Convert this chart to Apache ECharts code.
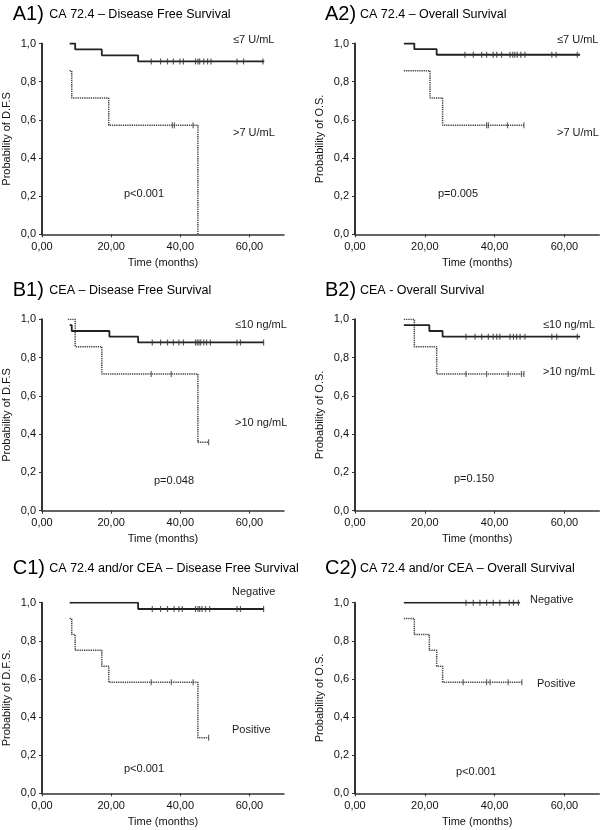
<!DOCTYPE html>
<html><head><meta charset="utf-8">
<script src="https://cdn.jsdelivr.net/npm/echarts@6/dist/echarts.min.js"></script>
<style>html,body{margin:0;padding:0;background:#fff}#c{width:600px;height:830px}</style>
</head><body><div id="c"></div>
<script>
// ---- tick values ----
const xTickValues = [0, 20, 40, 60];
const yTickValues = [0, 0.2, 0.4, 0.6, 0.8, 1.0];

// ---- A1: CA 72.4 – DFS ----
const a1LowTimes = [8, 9.6, 17.3, 27.8, 64.3];
const a1LowSurv = [1.0, 0.969, 0.938, 0.906, 0.906];
const a1LowCens = [31.6, 34.3, 36.3, 38.0, 39.9, 40.9, 44.4, 45.1, 45.6, 46.8, 47.9, 48.9, 56.4, 58.3, 63.9];
const a1HighTimes = [8, 8.6, 19.3, 45.1];
const a1HighSurv = [0.857, 0.714, 0.571, 0.0];
const a1HighCens = [37.7, 38.3, 43.7];

// ---- A2: CA 72.4 – OS ----
const a2LowTimes = [14, 17.0, 23.4, 64.5];
const a2LowSurv = [1.0, 0.970, 0.941, 0.941];
const a2LowCens = [31.5, 33.9, 36.3, 37.7, 39.6, 40.6, 42.0, 44.4, 45.2, 45.8, 46.5, 47.5, 48.7, 56.4, 57.6, 63.7];
const a2HighTimes = [14, 21.5, 25.1, 48.4];
const a2HighSurv = [0.857, 0.714, 0.571, 0.571];
const a2HighCens = [37.7, 38.2, 43.7, 48.4];

// ---- B1: CEA – DFS ----
const b1LowTimes = [8, 8.6, 19.5, 27.8, 64.1];
const b1LowSurv = [0.970, 0.939, 0.909, 0.879, 0.879];
const b1LowCens = [31.9, 34.3, 36.3, 38.0, 39.6, 40.9, 44.4, 44.9, 45.4, 45.9, 46.8, 47.6, 48.7, 56.4, 57.4, 64.1];
const b1HighTimes = [7.5, 9.6, 17.3, 45.1, 48.2];
const b1HighSurv = [1.0, 0.857, 0.714, 0.357, 0.357];
const b1HighCens = [31.6, 37.4, 48.2];

// ---- B2: CEA – OS ----
const b2LowTimes = [14, 21.3, 25.1, 64.5];
const b2LowSurv = [0.970, 0.939, 0.909, 0.909];
const b2LowCens = [31.8, 34.4, 36.3, 38.2, 39.6, 40.6, 41.5, 44.4, 45.4, 46.3, 47.3, 48.7, 56.4, 57.8, 63.7];
const b2HighTimes = [14, 17.0, 23.4, 48.4];
const b2HighSurv = [1.0, 0.857, 0.714, 0.714];
const b2HighCens = [31.8, 37.7, 43.9, 47.7, 48.4];

// ---- C1: CA 72.4 and/or CEA – DFS ----
const c1NegTimes = [8, 27.8, 64.1];
const c1NegSurv = [1.0, 0.967, 0.967];
const c1NegCens = [31.9, 34.3, 36.3, 38.2, 39.6, 40.6, 44.4, 45.1, 45.6, 46.3, 47.3, 48.5, 56.4, 57.4, 64.1];
const c1PosTimes = [8, 8.6, 9.6, 17.3, 19.3, 45.1, 48.2];
const c1PosSurv = [0.917, 0.833, 0.75, 0.667, 0.583, 0.292, 0.292];
const c1PosCens = [31.6, 37.4, 43.7, 48.2];

// ---- C2: CA 72.4 and/or CEA – OS ----
const c2NegTimes = [14, 47.3];
const c2NegSurv = [1.0, 1.0];
const c2NegCens = [31.8, 33.9, 35.8, 37.7, 39.6, 41.5, 44.2, 45.4, 46.8];
const c2PosTimes = [14, 17.0, 21.3, 23.4, 25.1, 48.0];
const c2PosSurv = [0.917, 0.833, 0.75, 0.667, 0.583, 0.583];
const c2PosCens = [31.0, 37.7, 38.7, 43.9, 47.8];

// ---- texts ----
const panelTags = ['A1)', 'A2)', 'B1)', 'B2)', 'C1)', 'C2)'];
const panelTitles = ['CA 72.4 \u2013 Disease Free Survival', 'CA 72.4 \u2013 Overall Survival',
  'CEA \u2013 Disease Free Survival', 'CEA - Overall Survival',
  'CA 72.4 and/or CEA \u2013 Disease Free Survival', 'CA 72.4 and/or CEA \u2013 Overall Survival'];
const yNames = ['Probability of D.F.S', 'Probability of O.S.', 'Probability of D.F.S', 'Probability of O.S.',
  'Probability of D.F.S.', 'Probability of O.S.'];
const xName = 'Time (months)';
const groupLabels = [['\u22647 U/mL', '>7 U/mL'], ['\u22647 U/mL', '>7 U/mL'],
  ['\u226410 ng/mL', '>10 ng/mL'], ['\u226410 ng/mL', '>10 ng/mL'],
  ['Negative', 'Positive'], ['Negative', 'Positive']];
const pValues = ['p<0.001', 'p=0.005', 'p=0.048', 'p=0.150', 'p<0.001', 'p<0.001'];

// ---- assembling ----
const curves = [
  [a1LowTimes, a1LowSurv, a1LowCens, a1HighTimes, a1HighSurv, a1HighCens],
  [a2LowTimes, a2LowSurv, a2LowCens, a2HighTimes, a2HighSurv, a2HighCens],
  [b1LowTimes, b1LowSurv, b1LowCens, b1HighTimes, b1HighSurv, b1HighCens],
  [b2LowTimes, b2LowSurv, b2LowCens, b2HighTimes, b2HighSurv, b2HighCens],
  [c1NegTimes, c1NegSurv, c1NegCens, c1PosTimes, c1PosSurv, c1PosCens],
  [c2NegTimes, c2NegSurv, c2NegCens, c2PosTimes, c2PosSurv, c2PosCens]
];

function survAt(times, surv, t) {
  let s = surv[0];
  for (let i = 0; i < times.length; i++) { if (times[i] <= t) s = surv[i]; }
  return s;
}
function pairs(times, surv) { return times.map((t, i) => [t, surv[i]]); }

const FONT = '"Liberation Sans", Arial, Helvetica, sans-serif';
const gridLayout = [
  {left: 40.7, top: 43.5, width: 243.3, height: 190.8},
  {left: 355, top: 43.5, width: 244.3, height: 190.8},
  {left: 40.7, top: 319.3, width: 243.3, height: 191.4},
  {left: 355, top: 319.3, width: 244.3, height: 191.4},
  {left: 40.7, top: 602.7, width: 243.3, height: 190.6},
  {left: 355, top: 602.7, width: 244.3, height: 190.6}
];
const grids = gridLayout.map(g => Object.assign({containLabel: false}, g));

const xAxes = gridLayout.map((g, i) => ({
  type: 'value', gridIndex: i, min: 0, max: 70,
  name: xName, nameLocation: 'middle', nameGap: 23,
  nameTextStyle: {fontFamily: FONT, fontSize: 11, color: '#111'},
  axisLine: {show: true, onZero: false, lineStyle: {color: '#333', width: 1.5}},
  axisTick: {show: true, length: 3, customValues: xTickValues, lineStyle: {color: '#333'}},
  axisLabel: {customValues: xTickValues, fontFamily: FONT, fontSize: 11, color: '#111', margin: 7,
    formatter: v => v.toFixed(2).replace('.', ',')},
  splitLine: {show: false}
}));
const yAxes = gridLayout.map((g, i) => ({
  type: 'value', gridIndex: i, min: 0, max: 1, interval: 0.2,
  name: yNames[i], nameLocation: 'middle', nameGap: 30,
  nameTextStyle: {fontFamily: FONT, fontSize: 11, color: '#111'},
  axisLine: {show: true, lineStyle: {color: '#333', width: 2}},
  axisTick: {show: true, length: 3, lineStyle: {color: '#333'}},
  axisLabel: {fontFamily: FONT, fontSize: 11, color: '#111', margin: 6,
    formatter: v => v.toFixed(1).replace('.', ',')},
  splitLine: {show: false}
}));

const series = [];
curves.forEach((c, i) => {
  const [t1, s1, k1, t2, s2, k2] = c;
  series.push({type: 'line', xAxisIndex: i, yAxisIndex: i, step: 'end', symbol: 'none', silent: true,
    data: pairs(t2, s2), lineStyle: {color: '#444', width: 1.5, type: [1.3, 0.9]}, z: 2});
  series.push({type: 'line', xAxisIndex: i, yAxisIndex: i, step: 'end', symbol: 'none', silent: true,
    data: pairs(t1, s1), lineStyle: {color: '#222', width: 1.8}, z: 3});
  series.push({type: 'scatter', xAxisIndex: i, yAxisIndex: i, symbol: 'rect', symbolSize: [1.2, 6], silent: true,
    data: k1.map(t => [t, survAt(t1, s1, t)]), itemStyle: {color: '#333'}, z: 4});
  series.push({type: 'scatter', xAxisIndex: i, yAxisIndex: i, symbol: 'rect', symbolSize: [1.2, 6], silent: true,
    data: k2.map(t => [t, survAt(t2, s2, t)]), itemStyle: {color: '#444'}, z: 4});
});

// text placement (pixels)
const tagPos = [[12.7, 14], [325, 14], [12.7, 290], [325, 290], [12.7, 568.5], [325, 568.5]];
const subPos = [[49.3, 14.5], [360, 14.5], [49.3, 290.5], [360, 290.5], [49.3, 569], [360, 569]];
const lab1Pos = [[233, 40], [557, 40], [235, 325], [543, 325], [232, 591.7], [530, 600]];
const lab2Pos = [[233, 132.7], [557, 133], [235, 423], [543, 371.7], [232, 730], [537, 684]];
const pPos = [[124, 194], [438, 194], [154, 480.7], [454, 479], [124, 769], [456, 771.7]];

function txt(text, pos, size, color) {
  return {type: 'text', x: pos[0], y: pos[1], silent: true,
    style: {text: text, font: size + 'px ' + FONT, fill: color || '#1a1a1a',
      align: 'left', verticalAlign: 'middle', textAlign: 'left', textVerticalAlign: 'middle'}};
}
const graphics = [];
for (let i = 0; i < 6; i++) {
  graphics.push(txt(panelTags[i], tagPos[i], 20, '#000'));
  graphics.push(txt(panelTitles[i], subPos[i], 12.5, '#000'));
  graphics.push(txt(groupLabels[i][0], lab1Pos[i], 11));
  graphics.push(txt(groupLabels[i][1], lab2Pos[i], 11));
  graphics.push(txt(pValues[i], pPos[i], 11));
}

const chart = echarts.init(document.getElementById('c'), null, {renderer: 'canvas'});
chart.setOption({
  animation: false,
  backgroundColor: '#fff',
  grid: grids, xAxis: xAxes, yAxis: yAxes, series: series,
  graphic: graphics
});
</script></body></html>
